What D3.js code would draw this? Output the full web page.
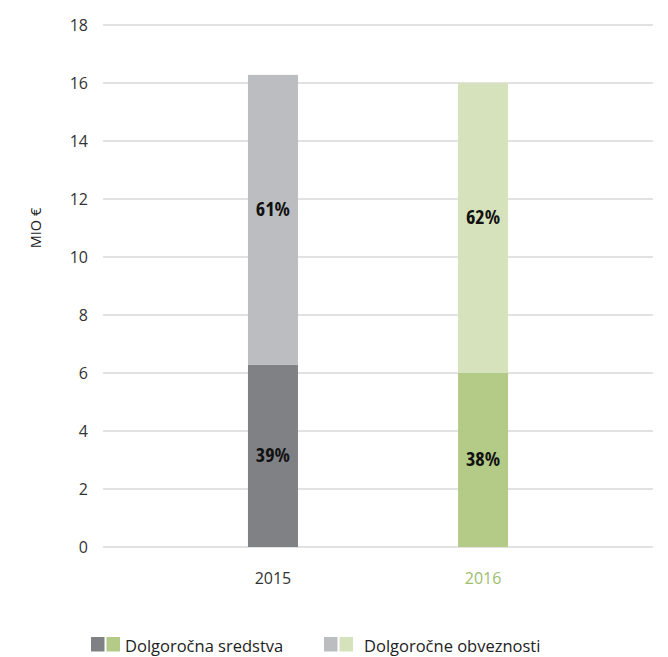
<!DOCTYPE html>
<html>
<head>
<meta charset="utf-8">
<script src="https://cdn.jsdelivr.net/npm/d3@7"></script>
<style>
  body { margin: 0; background: #fff; }
  text { font-family: "Open Sans", sans-serif; font-weight: 400; }
  text.pct { font-stretch: 75%; font-weight: 700; }
</style>
</head>
<body>
<div id="chart"></div>
<script>
// data
const years = ['2015', '2016'];
const longTermAssets = [6.28, 6.0];        // Dolgoročna sredstva
const longTermLiabilities = [10.0, 10.0];  // Dolgoročne obveznosti
const shareLabels = [['39%', '61%'], ['38%', '62%']];
const yTicks = [0, 2, 4, 6, 8, 10, 12, 14, 16, 18];
const seriesNames = ['Dolgoročna sredstva', 'Dolgoročne obveznosti'];

// colours per year: [dark, light]
const colors = {'2015': ['#808185', '#bcbdc0'], '2016': ['#b3cb87', '#d6e2bc']};
const yearLabelColor = {'2015': '#333333', '2016': '#9dbd6c'};

const width = 668, height = 657;
const margin = {top: 25, right: 15, bottom: 110, left: 103};

const svg = d3.select('#chart')
    .append('svg')
    .attr('width', width)
    .attr('height', height);

const x = d3.scaleBand()
    .domain(years)
    .range([margin.left, width - margin.right])
    .paddingInner(0.762)
    .paddingOuter(0.69);

const y = d3.scaleLinear()
    .domain([0, 18])
    .range([height - margin.bottom, margin.top]);

// gridlines
svg.append('g')
    .selectAll('line')
    .data(yTicks)
    .join('line')
    .attr('x1', margin.left)
    .attr('x2', width - margin.right)
    .attr('y1', d => y(d))
    .attr('y2', d => y(d))
    .attr('stroke', '#d9d9d9')
    .attr('stroke-width', 1.5);

// y axis labels
const yAxis = svg.append('g')
    .attr('transform', `translate(${margin.left - 15}, 0)`)
    .call(d3.axisLeft(y).tickValues(yTicks).tickSize(0).tickPadding(0));
yAxis.select('.domain').remove();
yAxis.attr('font-family', null).attr('font-size', null);
yAxis.selectAll('text')
    .style('font-size', '16px')
    .attr('fill', '#333');

svg.append('text')
    .attr('transform', `translate(41, ${y(11.0)}) rotate(-90)`)
    .attr('text-anchor', 'middle')
    .style('font-size', '14.5px')
    .attr('fill', '#222')
    .text('MIO €');

// stacked bars
const rows = years.map((yr, i) => ({
    year: yr,
    lower: longTermAssets[i],
    upper: longTermLiabilities[i],
    labels: shareLabels[i]
}));

const bars = svg.append('g');
bars.selectAll('.lowerBar')
    .data(rows)
    .join('rect')
    .attr('class', 'lowerBar')
    .attr('x', d => x(d.year))
    .attr('width', x.bandwidth())
    .attr('y', d => y(d.lower))
    .attr('height', d => y(0) - y(d.lower))
    .attr('fill', d => colors[d.year][0]);

bars.selectAll('.upperBar')
    .data(rows)
    .join('rect')
    .attr('class', 'upperBar')
    .attr('x', d => x(d.year))
    .attr('width', x.bandwidth())
    .attr('y', d => y(d.lower + d.upper))
    .attr('height', d => y(d.lower) - y(d.lower + d.upper))
    .attr('fill', d => colors[d.year][1]);

// percentage labels
bars.selectAll('.lowerLabel')
    .data(rows)
    .join('text')
    .attr('class', 'pct')
    .attr('x', d => x(d.year) + x.bandwidth() / 2)
    .attr('y', d => (y(0) + y(d.lower)) / 2 + 6)
    .attr('text-anchor', 'middle')
    .style('font-size', '20px')
    .attr('fill', '#111')
    .text(d => d.labels[0]);

bars.selectAll('.upperLabel')
    .data(rows)
    .join('text')
    .attr('class', 'pct')
    .attr('x', d => x(d.year) + x.bandwidth() / 2)
    .attr('y', d => (y(d.lower) + y(d.lower + d.upper)) / 2 - 4)
    .attr('text-anchor', 'middle')
    .style('font-size', '20px')
    .attr('fill', '#111')
    .text(d => d.labels[1]);

// x axis labels
svg.append('g')
    .selectAll('text')
    .data(years)
    .join('text')
    .attr('x', d => x(d) + x.bandwidth() / 2)
    .attr('y', y(0) + 37)
    .attr('text-anchor', 'middle')
    .style('font-size', '16px')
    .attr('fill', d => yearLabelColor[d])
    .text(d => d);

// legend
const legendX = [91, 324];
const legend = svg.append('g');
seriesNames.forEach((name, i) => {
    const g = legend.append('g').attr('transform', `translate(${legendX[i]}, 637)`);
    years.forEach((yr, j) => {
        g.append('rect')
            .attr('x', j * 15.5)
            .attr('y', 0)
            .attr('width', 13.5)
            .attr('height', 14.5)
            .attr('fill', colors[yr][i]);
    });
    g.append('text')
        .attr('x', i === 0 ? 34 : 40)
        .attr('y', 14.5)
        .style('font-size', '16.5px')
        .attr('fill', '#222')
        .text(name);
});
</script>
</body>
</html>
